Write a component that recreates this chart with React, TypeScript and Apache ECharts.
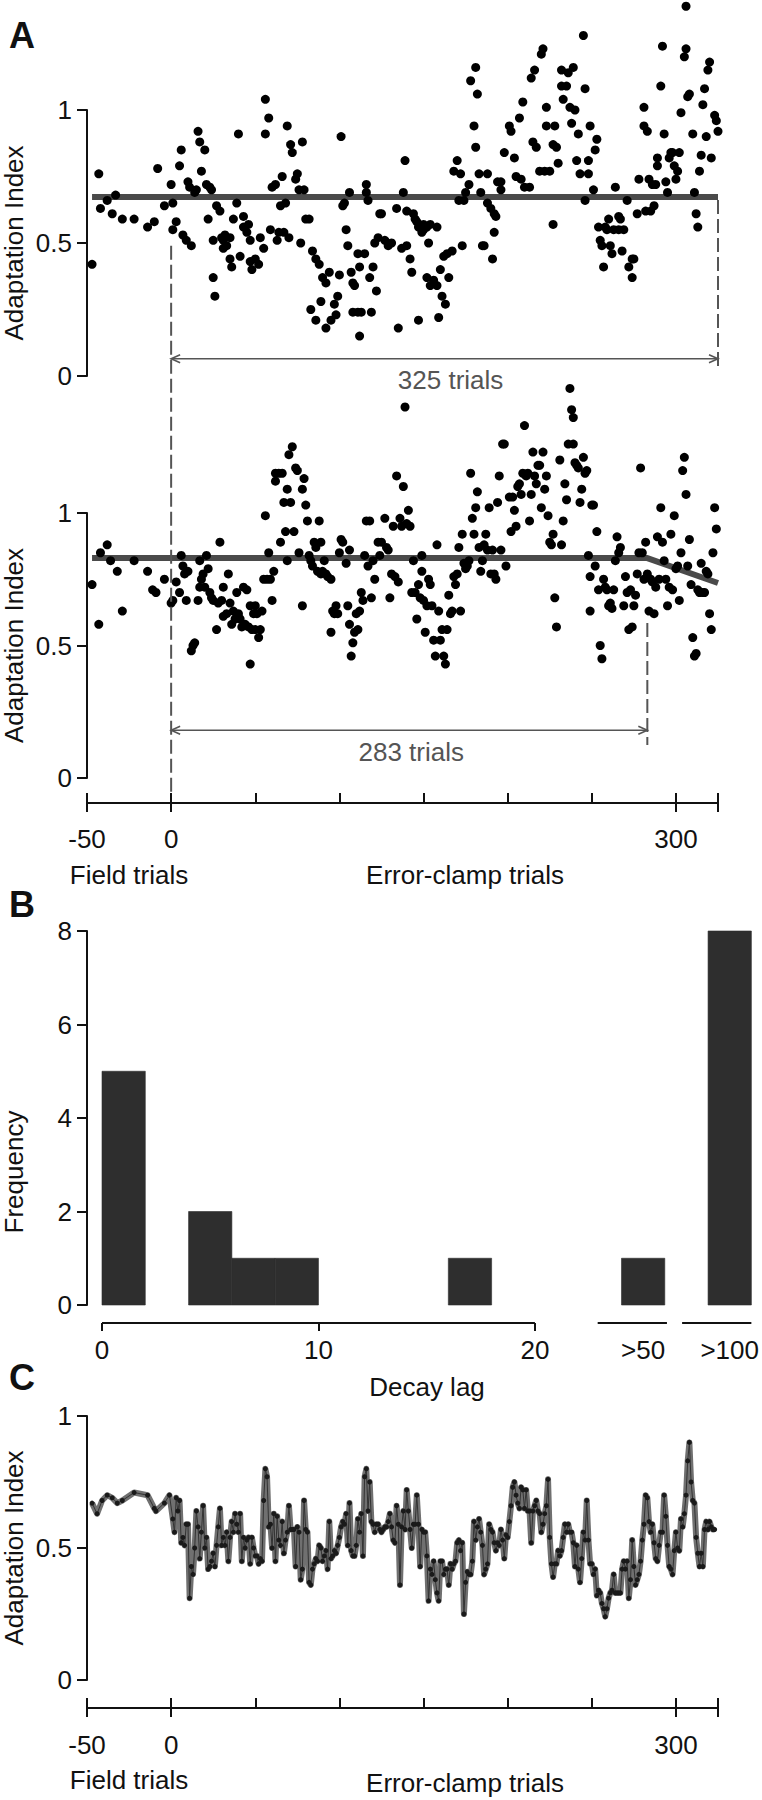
import React, { useEffect, useRef } from "react";
import * as echarts from "echarts";

const FONT = "'Liberation Sans', Arial, Helvetica, sans-serif";

// ---------- Panel A, upper subject: [trial, adaptation index] ----------
const topFieldPoints: [number, number][] = [
  [-47, 0.42], [-43, 0.76], [-42, 0.63], [-38, 0.66], [-35, 0.61], [-33, 0.68],
  [-29, 0.59], [-22, 0.59], [-14, 0.56], [-10, 0.58], [-8, 0.78], [-4, 0.64],
];
const topClampPoints: [number, number][] = [
  [0, 0.72], [1, 0.55], [1, 0.65], [3, 0.58], [5, 0.79], [6, 0.85], [7, 0.53], [9, 0.51], [10, 0.73], [11, 0.71],
  [12, 0.49], [14, 0.69], [15, 0.7], [16, 0.92], [17, 0.88], [18, 0.77], [20, 0.85], [21, 0.72], [22, 0.59], [23, 0.71],
  [24, 0.7], [25, 0.51], [25, 0.37], [26, 0.3], [27, 0.64], [29, 0.62], [30, 0.52], [31, 0.51], [31, 0.48], [32, 0.53],
  [33, 0.49], [35, 0.52], [35, 0.44], [36, 0.41], [37, 0.59], [39, 0.65], [40, 0.91], [41, 0.45], [43, 0.6], [43, 0.56],
  [45, 0.54], [46, 0.57], [47, 0.43], [47, 0.51], [48, 0.4], [50, 0.44], [52, 0.42], [53, 0.52], [55, 0.48], [56, 0.91],
  [56, 1.04], [58, 0.97], [59, 0.55], [60, 0.71], [62, 0.72], [63, 0.51], [64, 0.54], [65, 0.64], [66, 0.75], [67, 0.54],
  [68, 0.65], [69, 0.94], [70, 0.52], [71, 0.87], [72, 0.84], [74, 0.74], [75, 0.76], [76, 0.7], [77, 0.5], [78, 0.88],
  [79, 0.7], [80, 0.59], [82, 0.59], [83, 0.25], [84, 0.47], [86, 0.44], [86, 0.21], [88, 0.42], [89, 0.28], [90, 0.37],
  [92, 0.35], [92, 0.18], [94, 0.39], [95, 0.21], [97, 0.27], [98, 0.23], [99, 0.3], [100, 0.38], [101, 0.9], [102, 0.64],
  [103, 0.65], [104, 0.55], [105, 0.49], [106, 0.69], [107, 0.39], [108, 0.24], [108, 0.35], [109, 0.34], [111, 0.24], [111, 0.46],
  [112, 0.15], [112, 0.41], [113, 0.24], [115, 0.46], [116, 0.72], [116, 0.69], [117, 0.66], [118, 0.37], [119, 0.24], [120, 0.41],
  [121, 0.5], [122, 0.32], [123, 0.52], [124, 0.61], [125, 0.61], [127, 0.51], [129, 0.49], [131, 0.5], [134, 0.63], [135, 0.18],
  [137, 0.48], [138, 0.69], [139, 0.81], [140, 0.62], [140, 0.49], [142, 0.44], [143, 0.39], [144, 0.61], [145, 0.59], [146, 0.58],
  [147, 0.56], [147, 0.21], [149, 0.54], [150, 0.57], [150, 0.55], [152, 0.56], [152, 0.37], [153, 0.5], [154, 0.57], [154, 0.34],
  [156, 0.36], [158, 0.34], [158, 0.56], [159, 0.22], [160, 0.4], [161, 0.3], [162, 0.45], [163, 0.27], [164, 0.46], [165, 0.37],
  [167, 0.47], [168, 0.77], [170, 0.81], [171, 0.66], [172, 0.76], [173, 0.49], [174, 0.66], [175, 0.69], [177, 0.72], [178, 1.11],
  [180, 0.94], [181, 0.86], [181, 1.16], [182, 1.06], [183, 0.76], [184, 0.69], [185, 0.49], [186, 0.49], [188, 0.76], [188, 0.65],
  [190, 0.63], [191, 0.44], [192, 0.61], [192, 0.54], [193, 0.6], [194, 0.73], [196, 0.7], [196, 0.73], [198, 0.84], [201, 0.94],
  [202, 0.92], [204, 0.82], [205, 0.75], [207, 0.97], [208, 0.74], [209, 1.03], [210, 0.71], [213, 0.71], [214, 1.12], [215, 0.88],
  [216, 1.15], [217, 0.86], [219, 0.77], [220, 1.21], [221, 1.23], [222, 0.77], [223, 1.01], [223, 0.94], [225, 0.77], [227, 0.87],
  [227, 0.57], [228, 0.94], [229, 0.86], [230, 0.8], [232, 1.15], [232, 1.09], [233, 1.04], [235, 1.09], [236, 1.14], [237, 1.01],
  [238, 0.95], [239, 1.16], [240, 1.0], [241, 0.81], [242, 0.91], [243, 0.76], [245, 1.28], [246, 1.08], [246, 0.66], [248, 0.76],
  [248, 0.81], [249, 0.94], [251, 0.7], [252, 0.85], [253, 0.89], [254, 0.56], [255, 0.51], [256, 0.49], [257, 0.41], [258, 0.56],
  [259, 0.55], [260, 0.59], [261, 0.49], [262, 0.46], [263, 0.55], [264, 0.71], [266, 0.6], [266, 0.55], [267, 0.59], [268, 0.47],
  [269, 0.55], [271, 0.66], [272, 0.41], [274, 0.37], [274, 0.44], [275, 0.44], [277, 0.61], [278, 0.74], [281, 1.01], [281, 0.94],
  [283, 0.92], [282, 0.62], [284, 0.74], [285, 0.62], [286, 0.72], [287, 0.64], [288, 0.72], [289, 0.82], [289, 0.79], [291, 1.09],
  [292, 1.24], [293, 0.91], [294, 0.73], [295, 0.69], [296, 0.82], [297, 0.84], [298, 0.84], [299, 0.79], [300, 0.74], [301, 0.77],
  [302, 0.84], [303, 0.99], [305, 1.2], [306, 1.23], [306, 1.39], [307, 1.05], [308, 1.06], [310, 0.91], [311, 0.69], [312, 0.61],
  [313, 0.56], [314, 0.77], [315, 0.83], [316, 1.02], [317, 1.08], [318, 0.9], [319, 1.15], [320, 1.18], [321, 0.82], [323, 0.98],
  [324, 0.96], [325, 0.92],
];
const topFit: [number, number][] = [[-47, 0.673], [325, 0.673]];

// ---------- Panel A, lower subject ----------
const bottomFieldPoints: [number, number][] = [
  [-47, 0.73], [-43, 0.58], [-42, 0.85], [-38, 0.88], [-36, 0.82], [-32, 0.78],
  [-29, 0.63], [-22, 0.82], [-14, 0.78], [-11, 0.71], [-9, 0.7], [-4, 0.75],
];
const bottomClampPoints: [number, number][] = [
  [0, 0.66], [1, 0.67], [3, 0.74], [5, 0.7], [6, 0.84], [7, 0.8], [8, 0.77], [9, 0.67], [10, 0.78], [12, 0.48],
  [13, 0.5], [14, 0.51], [16, 0.67], [17, 0.82], [17, 0.72], [18, 0.75], [19, 0.77], [20, 0.72], [21, 0.84], [22, 0.79],
  [23, 0.7], [24, 0.68], [25, 0.67], [27, 0.56], [28, 0.66], [29, 0.89], [30, 0.67], [31, 0.72], [31, 0.61], [33, 0.62],
  [34, 0.77], [35, 0.66], [36, 0.58], [37, 0.63], [38, 0.6], [39, 0.7], [40, 0.62], [41, 0.6], [42, 0.57], [43, 0.72],
  [44, 0.58], [45, 0.71], [46, 0.57], [47, 0.65], [47, 0.43], [48, 0.56], [49, 0.62], [50, 0.65], [50, 0.56], [51, 0.62],
  [52, 0.53], [53, 0.56], [54, 0.63], [55, 0.75], [56, 0.99], [57, 0.75], [58, 0.85], [59, 0.75], [60, 0.67], [61, 0.78],
  [62, 1.12], [62, 1.15], [64, 1.15], [65, 0.89], [66, 1.15], [67, 1.04], [68, 0.93], [69, 0.82], [69, 1.09], [70, 1.22],
  [71, 1.04], [72, 1.25], [73, 0.93], [74, 1.17], [75, 1.16], [76, 0.85], [78, 0.65], [78, 1.09], [79, 1.13], [80, 1.03],
  [81, 0.97], [82, 0.84], [83, 0.82], [84, 0.8], [85, 0.89], [86, 0.87], [87, 0.78], [88, 0.97], [89, 0.77], [89, 0.89],
  [90, 0.78], [91, 0.82], [92, 0.77], [93, 0.76], [95, 0.75], [95, 0.55], [96, 0.63], [97, 0.62], [98, 0.65], [99, 0.62],
  [100, 0.85], [101, 0.9], [102, 0.89], [104, 0.81], [105, 0.65], [106, 0.86], [106, 0.58], [107, 0.46], [108, 0.51], [109, 0.55],
  [110, 0.62], [111, 0.56], [112, 0.63], [113, 0.7], [114, 0.67], [115, 0.84], [116, 0.97], [117, 0.8], [118, 0.97], [119, 0.68],
  [120, 0.82], [121, 0.75], [123, 0.89], [124, 0.84], [125, 0.89], [127, 0.98], [128, 0.87], [129, 0.86], [130, 0.68], [131, 0.77],
  [132, 0.95], [133, 0.76], [134, 1.14], [135, 0.74], [136, 0.98], [137, 0.95], [138, 1.1], [139, 1.4], [140, 0.96], [141, 1.01],
  [142, 0.95], [143, 0.7], [144, 0.82], [145, 0.7], [146, 0.6], [147, 0.73], [148, 0.68], [149, 0.78], [149, 0.84], [150, 0.67],
  [151, 0.55], [152, 0.65], [153, 0.75], [154, 0.73], [155, 0.65], [156, 0.52], [157, 0.46], [158, 0.88], [159, 0.63], [160, 0.52],
  [161, 0.56], [162, 0.46], [163, 0.43], [164, 0.56], [165, 0.69], [166, 0.62], [167, 0.63], [168, 0.76], [169, 0.73], [170, 0.77],
  [171, 0.87], [172, 0.63], [173, 0.92], [174, 0.81], [175, 0.79], [176, 0.8], [177, 0.82], [178, 1.15], [179, 0.98], [180, 0.92],
  [181, 1.02], [182, 1.08], [183, 0.87], [184, 0.78], [185, 0.82], [186, 0.88], [187, 0.92], [188, 0.86], [189, 1.02], [190, 0.77],
  [191, 0.86], [192, 0.77], [193, 0.75], [194, 1.04], [195, 1.14], [196, 0.86], [197, 1.26], [198, 1.26], [199, 0.8], [201, 1.06],
  [202, 0.93], [203, 1.06], [204, 1.01], [205, 0.95], [206, 1.1], [207, 1.11], [208, 1.07], [209, 1.15], [210, 1.33], [211, 1.14],
  [212, 1.15], [213, 0.97], [214, 1.07], [215, 1.23], [216, 1.14], [217, 1.11], [218, 1.18], [219, 1.18], [220, 1.02], [221, 1.23],
  [222, 1.09], [223, 1.14], [224, 0.99], [225, 0.89], [226, 0.88], [227, 0.92], [228, 0.68], [229, 0.57], [231, 1.2], [232, 0.88],
  [233, 0.97], [234, 1.11], [235, 1.05], [236, 1.26], [237, 1.47], [238, 1.39], [239, 1.36], [239, 1.26], [240, 1.19], [241, 1.18],
  [242, 1.17], [243, 1.04], [244, 1.09], [245, 1.21], [246, 1.15], [247, 1.16], [248, 0.84], [249, 0.76], [249, 0.63], [250, 1.03],
  [251, 1.03], [252, 0.8], [253, 0.93], [254, 0.71], [255, 0.5], [256, 0.45], [257, 0.75], [258, 0.72], [259, 0.71], [260, 0.65],
  [261, 0.66], [262, 0.64], [263, 0.71], [264, 0.82], [265, 0.91], [266, 0.85], [267, 0.87], [269, 0.65], [270, 0.76], [271, 0.7],
  [272, 0.56], [273, 0.71], [274, 0.57], [275, 0.65], [276, 0.69], [277, 0.77], [278, 0.85], [279, 1.17], [280, 0.85], [281, 0.75],
  [282, 0.89], [283, 0.77], [284, 0.63], [285, 0.75], [286, 0.74], [287, 0.62], [288, 0.72], [289, 0.91], [290, 0.75], [291, 1.02],
  [292, 0.89], [293, 0.82], [294, 0.75], [295, 0.65], [296, 0.72], [297, 0.92], [298, 0.71], [299, 0.99], [300, 0.79], [301, 0.8],
  [302, 0.67], [303, 0.85], [304, 1.16], [305, 1.21], [306, 1.07], [307, 0.8], [308, 0.9], [309, 0.73], [310, 0.53], [311, 0.46],
  [312, 0.47], [313, 0.71], [314, 0.7], [315, 0.81], [316, 0.7], [317, 0.7], [318, 0.78], [319, 0.77], [320, 0.62], [321, 0.56],
  [322, 0.85], [323, 1.02], [324, 0.94],
];
const bottomFit: [number, number][] = [[-47, 0.83], [283, 0.83], [325, 0.736]];

// annotation spans (trials) and labels
const topSpan = [0, 325];
const bottomSpan = [0, 283];
const topSpanLabel = "325 trials";
const bottomSpanLabel = "283 trials";

// ---------- Panel B: histogram of decay lag ----------
const histFrom = [0, 4, 6, 8, 16, 24, 28];
const histTo = [2, 6, 8, 10, 18, 26, 30];
const histCount = [5, 2, 1, 1, 1, 1, 8];
const histTickValues = [0, 10, 20];
const histLabelValues = [0, 10, 20, 25, 29];
const histLabelText: Record<number, string> = { 0: "0", 10: "10", 20: "20", 25: ">50", 29: ">100" };
const histAxisSegments: [number, number][] = [[0, 20], [22.9, 26.1], [26.8, 30]];

// ---------- Panel C: group mean ----------
const cFieldTrials = [-47, -44, -41, -38, -35, -32, -29, -22, -14, -10, -9, -4, -1];
const cFieldValues = [0.67, 0.63, 0.68, 0.7, 0.69, 0.67, 0.68, 0.71, 0.7, 0.65, 0.64, 0.67, 0.7];
const cClampFirstTrial = 1;
const cClampValues = [
  0.61, 0.56, 0.69, 0.64, 0.68, 0.52, 0.54, 0.51, 0.59, 0.59,
  0.31, 0.43, 0.4, 0.5, 0.64, 0.58, 0.46, 0.56, 0.66, 0.5,
  0.54, 0.42, 0.43, 0.45, 0.48, 0.43, 0.51, 0.58, 0.65, 0.51,
  0.54, 0.51, 0.56, 0.45, 0.54, 0.6, 0.56, 0.63, 0.59, 0.56,
  0.63, 0.45, 0.54, 0.5, 0.53, 0.54, 0.44, 0.54, 0.5, 0.47,
  0.47, 0.44, 0.46, 0.45, 0.68, 0.8, 0.77, 0.58, 0.59, 0.5,
  0.63, 0.45, 0.62, 0.53, 0.51, 0.6, 0.48, 0.53, 0.56, 0.66,
  0.57, 0.57, 0.57, 0.43, 0.58, 0.56, 0.38, 0.42, 0.68, 0.57,
  0.56, 0.37, 0.36, 0.42, 0.44, 0.46, 0.45, 0.51, 0.5, 0.45,
  0.47, 0.49, 0.42, 0.6, 0.46, 0.47, 0.49, 0.48, 0.51, 0.54,
  0.58, 0.6, 0.59, 0.63, 0.51, 0.67, 0.49, 0.47, 0.47, 0.51,
  0.61, 0.56, 0.63, 0.47, 0.77, 0.8, 0.64, 0.75, 0.6, 0.59,
  0.56, 0.59, 0.59, 0.57, 0.56,
  0.57, 0.58, 0.58, 0.6, 0.63, 0.58, 0.53, 0.52, 0.66, 0.59,
  0.36, 0.58, 0.64, 0.57, 0.72, 0.64, 0.57, 0.5, 0.59, 0.59,
  0.7, 0.59, 0.43, 0.57, 0.56, 0.56, 0.47, 0.3, 0.42, 0.4,
  0.45, 0.38, 0.33, 0.3, 0.45, 0.45, 0.4, 0.42, 0.42, 0.36,
  0.44, 0.42, 0.44, 0.45, 0.52, 0.53, 0.49, 0.52, 0.25, 0.37,
  0.41, 0.4, 0.4, 0.45, 0.6, 0.53, 0.58, 0.61, 0.56, 0.51,
  0.4, 0.42, 0.44, 0.59, 0.57, 0.56, 0.52, 0.49, 0.52, 0.51,
  0.57, 0.53, 0.46, 0.55, 0.54, 0.6, 0.66, 0.73, 0.75, 0.7,
  0.67, 0.65, 0.73, 0.72, 0.65, 0.72, 0.64, 0.64, 0.52, 0.64,
  0.66, 0.68, 0.64, 0.63, 0.56, 0.59, 0.63, 0.66, 0.76, 0.54,
  0.44, 0.39, 0.44, 0.44, 0.49, 0.47, 0.49, 0.54, 0.59, 0.56,
  0.59, 0.56, 0.56, 0.52, 0.43, 0.51, 0.42, 0.37, 0.46, 0.56,
  0.53, 0.68, 0.53, 0.44, 0.44, 0.4, 0.42, 0.32, 0.34, 0.33,
  0.29, 0.27, 0.24, 0.27, 0.31, 0.33, 0.34, 0.4, 0.33, 0.33,
  0.33, 0.33, 0.42, 0.45, 0.42, 0.45, 0.31, 0.38, 0.53, 0.43,
  0.36, 0.38, 0.4, 0.45, 0.53, 0.59, 0.7, 0.69, 0.6, 0.56,
  0.59, 0.52, 0.46, 0.45, 0.51, 0.56, 0.56, 0.7, 0.62, 0.51,
  0.43, 0.42, 0.4, 0.49, 0.56, 0.5, 0.49, 0.61, 0.58, 0.63,
  0.7, 0.83, 0.9, 0.75, 0.68, 0.67, 0.54, 0.48, 0.43, 0.48,
  0.43, 0.57, 0.6, 0.57, 0.6, 0.58, 0.57, 0.57,
];

// shared x axis ticks for trial axes
const trialMin = -50;
const trialMax = 325;
const trialMinorTicks = [-50, 0, 50, 100, 150, 200, 250, 300, 325];
const trialMajorTicks = [-50, 0, 300, 325];
const trialLabels = [-50, 0, 300];

const INK = "#111";
const GREY = "#555";

export default function App() {
  const ref = useRef<HTMLDivElement>(null);

  useEffect(() => {
    document.body.style.margin = "0";
    const chart = echarts.init(ref.current!, null, { renderer: "svg" });

    const labelStyle = { color: INK, fontSize: 26, fontFamily: FONT };
    const yAxisBase = (gridIndex: number, max: number, interval: number, offset = 0) => ({
      type: "value",
      gridIndex,
      position: "left",
      min: 0,
      max,
      interval,
      offset,
      axisLine: { show: true, onZero: false, lineStyle: { color: INK, width: 2 } },
      axisTick: { show: true, inside: false, length: 10, lineStyle: { color: INK, width: 2 } },
      axisLabel: { ...labelStyle, margin: 15 },
      splitLine: { show: false },
    });
    const trialAxisLine = (gridIndex: number, offset: number) => ({
      type: "value",
      gridIndex,
      position: "bottom",
      min: trialMin,
      max: trialMax,
      offset,
      axisLine: { show: true, onZero: false, lineStyle: { color: INK, width: 2 } },
      axisTick: { show: true, inside: true, length: 10, customValues: trialMinorTicks, lineStyle: { color: INK, width: 2 } },
      axisLabel: { show: false },
      splitLine: { show: false },
    });
    const trialAxisMajor = (gridIndex: number, offset: number, margin: number) => ({
      type: "value",
      gridIndex,
      position: "bottom",
      min: trialMin,
      max: trialMax,
      offset,
      axisLine: { show: false, onZero: false },
      axisTick: { show: true, inside: false, length: 9, customValues: trialMajorTicks, lineStyle: { color: INK, width: 2 } },
      axisLabel: { ...labelStyle, margin, customValues: trialLabels },
      splitLine: { show: false },
    });

    const cData: [number, number][] = [
      ...cFieldTrials.map((t, i) => [t, cFieldValues[i]] as [number, number]),
      ...cClampValues.map((v, i) => [cClampFirstTrial + i, v] as [number, number]),
    ];

    chart.setOption({
      animation: false,
      backgroundColor: "#fff",
      textStyle: { fontFamily: FONT },
      grid: [
        { left: 87, top: 110, width: 631, height: 266 },
        { left: 87, top: 513, width: 631, height: 265 },
        { left: 102, top: 931, width: 650, height: 374 },
        { left: 87, top: 1416, width: 631, height: 264 },
      ],
      xAxis: [
        { type: "value", gridIndex: 0, position: "bottom", min: trialMin, max: trialMax, show: false, axisLine: { onZero: false } },
        trialAxisLine(1, 25),
        trialAxisMajor(1, 25, 23),
        {
          type: "value",
          gridIndex: 2,
          position: "bottom",
          min: 0,
          max: 30,
          offset: 18,
          axisLine: { show: false, onZero: false },
          axisTick: { show: true, inside: false, length: 8, customValues: histTickValues, lineStyle: { color: INK, width: 2 } },
          axisLabel: {
            ...labelStyle,
            margin: 14,
            customValues: histLabelValues,
            formatter: (v: number) => histLabelText[v] ?? "",
          },
          splitLine: { show: false },
        },
        trialAxisLine(3, 28),
        trialAxisMajor(3, 28, 24),
      ],
      yAxis: [
        yAxisBase(0, 1, 0.5),
        yAxisBase(1, 1, 0.5),
        yAxisBase(2, 8, 2, 15),
        yAxisBase(3, 1, 0.5),
      ],
      series: [
        {
          type: "line",
          xAxisIndex: 0,
          yAxisIndex: 0,
          data: topFit,
          symbol: "none",
          lineStyle: { color: "#4a4a4a", width: 6 },
          z: 1,
        },
        {
          type: "scatter",
          xAxisIndex: 0,
          yAxisIndex: 0,
          data: [...topFieldPoints, ...topClampPoints],
          symbolSize: 9,
          itemStyle: { color: "#000", opacity: 1 },
          clip: false,
          z: 3,
        },
        {
          type: "line",
          xAxisIndex: 1,
          yAxisIndex: 1,
          data: bottomFit,
          symbol: "none",
          lineStyle: { color: "#4a4a4a", width: 6 },
          z: 1,
        },
        {
          type: "scatter",
          xAxisIndex: 1,
          yAxisIndex: 1,
          data: [...bottomFieldPoints, ...bottomClampPoints],
          symbolSize: 9,
          itemStyle: { color: "#000", opacity: 1 },
          clip: false,
          z: 3,
        },
        {
          type: "custom",
          xAxisIndex: 3,
          yAxisIndex: 2,
          data: histFrom.map((f, i) => [f, histTo[i], histCount[i]]),
          encode: { x: [0, 1], y: 2 },
          renderItem: (_params: any, api: any) => {
            const p0 = api.coord([api.value(0), api.value(2)]);
            const p1 = api.coord([api.value(1), 0]);
            return {
              type: "rect",
              shape: { x: p0[0], y: p0[1], width: p1[0] - p0[0], height: p1[1] - p0[1] },
              style: { fill: "#2e2e2e", stroke: "#2e2e2e", lineWidth: 0.6 },
            };
          },
        },
        {
          type: "line",
          xAxisIndex: 4,
          yAxisIndex: 3,
          data: cData,
          symbol: "none",
          lineStyle: { color: "#707070", width: 6, join: "round" },
          z: 1,
        },
        {
          type: "line",
          xAxisIndex: 4,
          yAxisIndex: 3,
          data: cData,
          symbol: "circle",
          symbolSize: 5,
          showSymbol: true,
          itemStyle: { color: "#1a1a1a", borderWidth: 0 },
          lineStyle: { color: "#333", width: 1 },
          z: 3,
        },
      ],
    });

    const px = (g: number, x: number, y: number) => chart.convertToPixel({ gridIndex: g }, [x, y]) as number[];

    const txt = (x: number, y: number, text: string, opts: any = {}) => ({
      type: "text",
      x,
      y,
      rotation: opts.rotation ?? 0,
      z: 100,
      style: {
        text,
        fontSize: opts.fontSize ?? 26,
        fontWeight: opts.fontWeight ?? "normal",
        fontFamily: FONT,
        fill: opts.fill ?? INK,
        align: opts.align ?? "center",
        textAlign: opts.align ?? "center",
        verticalAlign: "middle",
        textVerticalAlign: "middle",
      },
    });
    const seg = (x1: number, y1: number, x2: number, y2: number, style: any) => ({
      type: "line",
      z: 50,
      shape: { x1, y1, x2, y2 },
      style,
    });
    const dashed = { stroke: GREY, lineWidth: 2, lineDash: [14, 5] };
    const thin = { stroke: GREY, lineWidth: 1.6 };
    const arrow = (x0: number, x1: number, y: number) => [
      seg(x0, y, x1, y, thin),
      { type: "polyline", z: 50, shape: { points: [[x0 + 9, y - 4], [x0, y], [x0 + 9, y + 4]] }, style: { ...thin, fill: "none" } },
      { type: "polyline", z: 50, shape: { points: [[x1 - 9, y - 4], [x1, y], [x1 - 9, y + 4]] }, style: { ...thin, fill: "none" } },
    ];

    // positions derived from the axes
    const topStart = px(0, topSpan[0], 0.49);
    const lowerAxisEnd = px(1, 0, 0)[1] + 14;
    const topEndTop = px(0, topSpan[1], 0.673);
    const topEndBot = px(0, topSpan[1], 0.035);
    const topArrowY = px(0, 0, 0.065)[1];
    const topMid = px(0, (topSpan[0] + topSpan[1]) / 2, 0)[0] + 6;
    const botEndTop = px(1, bottomSpan[1], 0.585);
    const botEndBot = px(1, bottomSpan[1], 0.125);
    const botArrowY = px(1, 0, 0.18)[1];
    const botMid = px(1, (bottomSpan[0] + bottomSpan[1]) / 2, 0)[0] + 2;
    const x0 = topStart[0];

    const bAxisY = px(2, 0, 0)[1] + 18;
    const bSegs = histAxisSegments.map(([a, b]) => seg(px(2, a, 0)[0], bAxisY, px(2, b, 0)[0], bAxisY, { stroke: INK, lineWidth: 2 }));

    const elements: any[] = [
      txt(9, 35, "A", { fontSize: 36, fontWeight: "bold", align: "left" }),
      txt(9, 904, "B", { fontSize: 36, fontWeight: "bold", align: "left" }),
      txt(9, 1377, "C", { fontSize: 36, fontWeight: "bold", align: "left" }),
      txt(14, px(0, 0, 0.5)[1], "Adaptation Index", { rotation: Math.PI / 2 }),
      txt(14, px(1, 0, 0.5)[1], "Adaptation Index", { rotation: Math.PI / 2 }),
      txt(14, 1172, "Frequency", { rotation: Math.PI / 2 }),
      txt(14, px(3, 0, 0.5)[1], "Adaptation Index", { rotation: Math.PI / 2 }),
      txt(129, 875, "Field trials"),
      txt(465, 875, "Error-clamp trials"),
      txt(427, 1387, "Decay lag"),
      txt(129, 1780, "Field trials"),
      txt(465, 1783, "Error-clamp trials"),
      seg(x0, topStart[1], x0, lowerAxisEnd, dashed),
      seg(topEndTop[0], topEndTop[1] + 3, topEndBot[0], topEndBot[1], dashed),
      ...arrow(x0, topEndTop[0], topArrowY),
      txt(topMid, topArrowY + 21, topSpanLabel, { fill: GREY }),
      seg(botEndTop[0], botEndTop[1], botEndBot[0], botEndBot[1], dashed),
      ...arrow(x0, botEndTop[0], botArrowY),
      txt(botMid, botArrowY + 22, bottomSpanLabel, { fill: GREY }),
      ...bSegs,
    ];

    chart.setOption({ graphic: { elements } });

    return () => chart.dispose();
  }, []);

  return <div ref={ref} style={{ width: 762, height: 1800 }} />;
}
